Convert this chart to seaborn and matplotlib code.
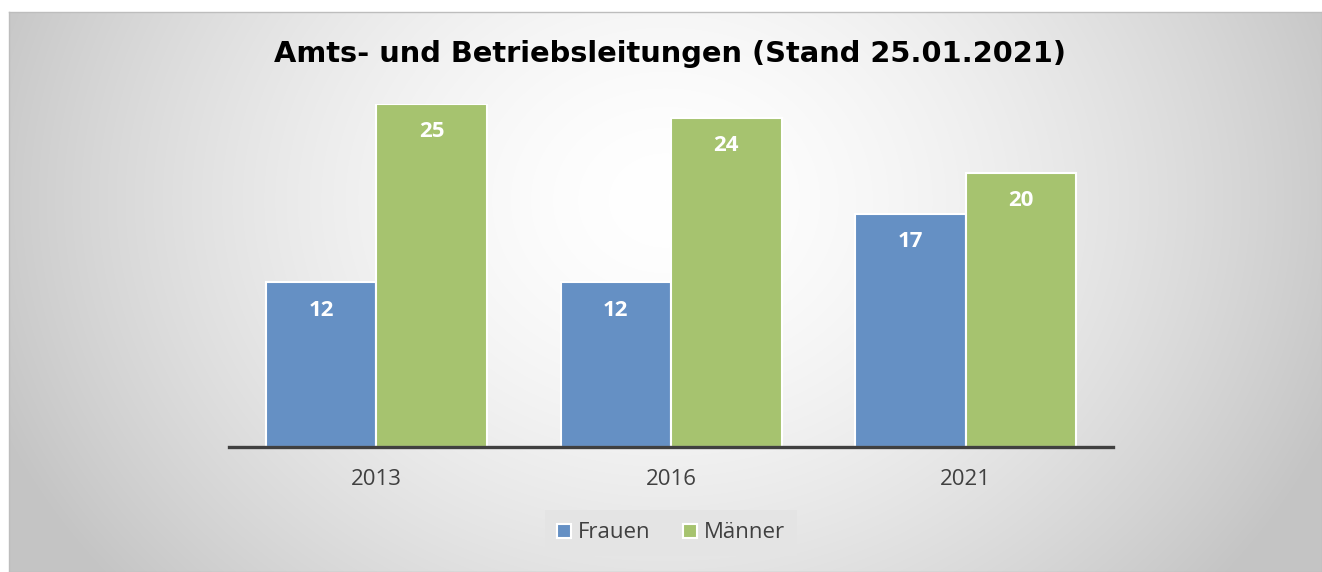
"""
Amts- und Betriebsleitungen, Balkendiagramm
"""

import matplotlib
matplotlib.use("Agg")
import matplotlib.pyplot as plt
import numpy as np
import pandas as pd
import seaborn as sns

years = ["2013", "2016", "2021"]
frauen = [12, 12, 17]
maenner = [25, 24, 20]
title = "Amts- und Betriebsleitungen (Stand 25.01.2021)"

sns.set_theme(style="white")
plt.rcParams["font.family"] = ["Open Sans", "DejaVu Sans"]

data = pd.concat([
    pd.DataFrame({"Jahr": years, "Anzahl": frauen, "Geschlecht": "Frauen"}),
    pd.DataFrame({"Jahr": years, "Anzahl": maenner, "Geschlecht": "Männer"}),
])

W, H = 1322, 572
fig = plt.figure(figsize=(W / 100, H / 100), dpi=100)
fig.patch.set_facecolor("white")

# Hintergrund mit radialem Verlauf
bg = fig.add_axes([9 / W, 0, 1 - 9 / W, (H - 12) / H], zorder=0)
yy, xx = np.mgrid[12:H, 9:W]
r = np.sqrt(((xx - 665) / 720) ** 2 + ((yy - 200) / 600) ** 2)
gray = 1 - 0.23 * np.clip(r, 0, 1.0) ** 1.6
bg.imshow(np.dstack([gray] * 3), aspect="auto", extent=[0, 1, 0, 1])
bg.set_xticks([])
bg.set_yticks([])
for s in bg.spines.values():
    s.set_color("#bdbdbd")
    s.set_linewidth(1)

ax = fig.add_axes([229 / W, (H - 447) / H, (1113 - 229) / W, (447 - 104) / H], zorder=1)
ax.patch.set_alpha(0)
sns.barplot(data=data, x="Jahr", y="Anzahl", hue="Geschlecht",
            palette=["#6590c4", "#a6c36f"], width=0.75, ax=ax,
            edgecolor="white", linewidth=1.5, saturation=1)

for cont in ax.containers:
    for bar in cont:
        h = bar.get_height()
        ax.annotate(f"{h:.0f}", (bar.get_x() + bar.get_width() / 2, h),
                    xytext=(0, -28), textcoords="offset pixels",
                    ha="center", va="center", color="white", fontsize=16, fontweight="bold")

ax.set_ylim(0, 25)
ax.set_xlim(-0.5, 2.5)
ax.set_xlabel("")
ax.set_ylabel("")
ax.set_yticks([])
for s in ["top", "right", "left"]:
    ax.spines[s].set_visible(False)
ax.spines["bottom"].set_color("#404040")
ax.spines["bottom"].set_linewidth(2.4)
ax.tick_params(axis="x", length=0, pad=16, labelsize=16, labelcolor="#404040")

leg = ax.legend(loc="center", bbox_to_anchor=(0.5, (533 - 447) / -(447 - 104)),
                ncol=2, frameon=True, fontsize=16, handlelength=0.6, handleheight=0.6,
                columnspacing=1.5, handletextpad=0.3, borderpad=0.55)
leg.get_frame().set_facecolor("#e4e4e4")
leg.get_frame().set_edgecolor("none")
leg.get_frame().set_alpha(1)
leg.get_frame().set_boxstyle("square", pad=0)
for t in leg.get_texts():
    t.set_color("#404040")

fig.text(670 / W, 1 - 54 / H, title, ha="center", va="center",
         fontsize=20.8, fontweight="bold", color="black", family=["DejaVu Sans"])

fig.savefig("out.png", dpi=100)
